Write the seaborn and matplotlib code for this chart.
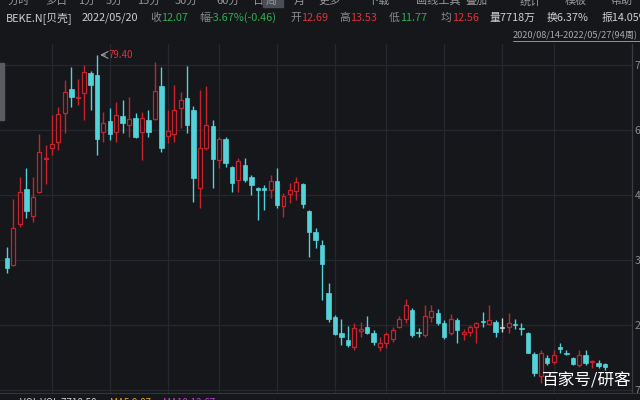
import pandas as pd
import matplotlib
matplotlib.use("Agg")
import matplotlib.pyplot as plt
import seaborn as sns

# ==========================
# Weekly K-line data, BEKE.N (2020/08/14 - 2022/05/27, 94 weeks)
# ==========================
start_week = "2020-08-14"
n_weeks = 94

opens = [35.5, 34.0, 42.8, 50.4, 44.6, 49.8, 56.8, 59.3, 60.6, 66.8,
         72.0, 70.0, 71.2, 75.5, 75.1, 62.7, 65.1, 62.7, 66.2, 64.2,
         65.8, 62.7, 65.3, 65.5, 72.7, 61.9, 62.3, 67.9, 70.1, 67.5,
         50.6, 59.3, 64.0, 56.7, 61.2, 55.2, 52.4, 55.6, 53.0, 50.6,
         50.5, 50.2, 52.2, 46.7, 49.3, 50.0, 51.5, 45.7, 41.1, 38.3,
         27.9, 22.7, 19.3, 17.8, 16.3, 19.8, 20.6, 19.3, 16.3, 17.1,
         18.0, 20.6, 22.3, 24.2, 19.4, 18.8, 22.7, 23.6, 21.4, 19.3,
         22.1, 19.1, 19.5, 20.6, 21.8, 21.2, 21.6, 20.4, 20.6, 21.2,
         20.4, 19.3, 14.7, 9.9, 13.9, 13.0, 16.1, 15.0, 13.9, 12.4,
         14.5, 13.0, 12.69, 12.6]
highs = [37.9, 48.2, 53.0, 55.0, 53.0, 62.3, 60.0, 66.4, 68.1, 74.0,
         76.8, 74.2, 77.2, 76.0, 79.4, 67.1, 67.9, 69.2, 69.6, 70.3,
         66.8, 67.1, 67.5, 77.9, 76.8, 67.5, 72.9, 71.4, 77.0, 68.4,
         71.8, 72.7, 65.3, 61.6, 61.6, 55.4, 57.1, 57.1, 53.4, 50.8,
         51.3, 53.4, 55.0, 49.5, 51.7, 53.0, 51.7, 45.8, 42.0, 39.4,
         30.1, 23.2, 22.3, 20.8, 21.4, 21.6, 23.0, 19.9, 18.4, 19.5,
         20.6, 23.0, 26.6, 24.7, 20.4, 25.3, 25.3, 24.5, 22.1, 23.4,
         22.5, 20.2, 21.0, 21.6, 23.8, 25.3, 22.1, 22.5, 23.6, 22.3,
         21.4, 19.5, 15.2, 15.6, 14.5, 15.6, 17.1, 15.6, 14.1, 15.6,
         15.6, 13.4, 13.53, 12.8]
lows = [32.2, 33.8, 42.2, 44.2, 43.3, 49.6, 51.5, 57.8, 58.9, 62.5,
        68.1, 68.5, 65.3, 67.5, 57.8, 60.6, 61.0, 60.6, 62.5, 61.6,
        61.4, 56.7, 61.6, 65.3, 58.4, 60.4, 60.6, 63.6, 62.5, 47.6,
        46.3, 58.9, 50.6, 55.0, 55.2, 49.8, 49.8, 51.9, 49.1, 43.7,
        45.9, 48.5, 46.3, 44.4, 47.4, 48.0, 46.3, 35.7, 37.7, 26.4,
        21.6, 18.8, 16.7, 16.3, 15.6, 18.4, 19.1, 16.7, 15.4, 16.0,
        17.3, 20.4, 21.4, 18.4, 18.4, 18.4, 21.6, 21.0, 18.0, 18.8,
        17.1, 17.8, 18.6, 17.1, 20.6, 21.0, 18.4, 19.5, 19.3, 20.2,
        18.8, 14.9, 10.0, 8.5, 12.4, 12.6, 15.0, 14.5, 12.4, 11.9,
        12.4, 11.7, 11.77, 11.3]
closes = [33.3, 41.9, 49.8, 45.7, 48.7, 58.4, 57.2, 60.2, 66.6, 71.4,
          70.3, 70.2, 75.7, 72.9, 61.2, 64.7, 62.3, 66.4, 64.7, 65.5,
          61.6, 65.8, 62.7, 71.6, 59.3, 63.0, 67.5, 69.6, 64.2, 52.8,
          59.3, 64.2, 56.9, 61.2, 56.0, 51.7, 56.5, 52.4, 51.3, 50.3,
          50.3, 52.2, 47.0, 48.9, 50.2, 51.9, 47.2, 41.1, 39.4, 34.2,
          22.4, 19.1, 18.4, 16.7, 20.4, 20.0, 19.3, 17.3, 17.1, 19.1,
          19.9, 22.3, 25.3, 18.8, 19.2, 22.9, 24.0, 21.4, 18.4, 22.3,
          19.9, 19.4, 20.6, 21.4, 21.6, 22.1, 19.5, 20.4, 21.4, 21.0,
          20.2, 15.0, 10.6, 14.9, 12.8, 14.5, 15.9, 14.8, 12.6, 14.5,
          12.8, 13.2, 12.07, 11.9]

price_ticks = [7.00, 21.04, 35.08, 49.12, 63.16, 77.20]

# ==========================
# Colours
# ==========================
BG = "#15171b"
GRID = "#25282e"
RED = "#c8232d"
CYAN = "#52d3d9"
DOJI = "#d4d4d4"
TXT = "#cfcfcf"
GRAY = "#8c8c8c"
GREEN = "#2fae4e"
TRED = "#e0323c"

sns.set_theme(style="dark", rc={"axes.facecolor": BG, "figure.facecolor": BG,
                                "axes.edgecolor": "#3a3d44"})
plt.rcParams["font.family"] = ["Noto Sans CJK SC", "DejaVu Sans"]

df = pd.DataFrame({"date": pd.date_range(start_week, periods=n_weeks, freq="7D"),
                   "open": opens, "high": highs, "low": lows, "close": closes})
df["idx"] = range(len(df))

fig = plt.figure(figsize=(6.4, 4.0), dpi=100)
ax = fig.add_axes([0, 7 / 400, 632 / 640, 349 / 400])

# vertical grid at the first week of every second month
first_of_month = df[df["date"].dt.month != df["date"].shift().dt.month]
for _, r in first_of_month.iterrows():
    if r["date"].month % 2 == 0 and r["idx"] > 0:
        ax.axvline(r["idx"], color=GRID, lw=0.9, zorder=0)

up = df["close"] > df["open"]
down = df["close"] < df["open"]
flat = df["close"] == df["open"]

# wicks
for mask, col in [(up, RED), (down, CYAN), (flat, DOJI)]:
    d = df[mask]
    ax.vlines(d["idx"], d["low"], d["high"], colors=col, lw=1.0, zorder=2)

# bodies
body = (df["close"] - df["open"]).abs().clip(lower=0.25)
bottom = df[["open", "close"]].min(axis=1)
ax.bar(df["idx"][up], body[up], bottom=bottom[up], width=0.62,
       facecolor=BG, edgecolor=RED, lw=0.9, zorder=3)
ax.bar(df["idx"][down], body[down], bottom=bottom[down], width=0.7,
       facecolor=CYAN, edgecolor=CYAN, lw=0.5, zorder=3)
ax.bar(df["idx"][flat], body[flat], bottom=bottom[flat], width=0.7,
       facecolor=DOJI, edgecolor=DOJI, lw=0.5, zorder=3)

# highest price marker
imax = df["high"].idxmax()
ax.annotate("", xy=(imax + 0.05, df["high"][imax]), xytext=(imax + 1.75, df["high"][imax]),
            arrowprops=dict(arrowstyle="->", color="#a0a0a0", lw=0.8))
ax.text(imax + 1.8, df["high"][imax], f"{df['high'][imax]:.2f}", color=TRED,
        fontsize=7, va="center", ha="left")

ax.set_xlim(-1.09, 97.2)
ax.set_ylim(6.30, 81.76)
ax.yaxis.tick_right()
ax.set_yticks(price_ticks)
ax.set_yticklabels([f"{v:.2f}" for v in price_ticks])
ax.tick_params(axis="y", colors=GRAY, labelsize=7.5, length=0, pad=2)
ax.set_xticks([])
ax.grid(axis="y", color=GRID, lw=0.9)
ax.grid(axis="x", visible=False)
for s in ["top", "left", "bottom"]:
    ax.spines[s].set_visible(False)
ax.spines["right"].set_color("#3a3d44")
ax.spines["right"].set_linewidth(0.9)


def ftext(x, y, s, **kw):
    fig.text(x / 640, 1 - y / 400, s, **kw)


# top menu bar (cut off)
menu = [(8, "分时"), (45, "多日"), (78, "1分"), (106, "5分"), (137, "15分"),
        (175, "30分"), (216, "60分"), (253, "日"), (266, "周"), (294, "月"),
        (318, "更多"), (367, "下载"), (416, "画线工具"), (465, "叠加"),
        (520, "统计"), (565, "模板"), (610, "帮助")]
fig.patches.append(plt.Rectangle((263 / 640, 1 - 7 / 400), 20 / 640, 7 / 400,
                                 transform=fig.transFigure, color="#4a4d55", zorder=0))
for x, s in menu:
    ftext(x, 1, s, color="#9a9a9a", fontsize=8, va="center", ha="left")

# info line
info = [(6, "BEKE.N[贝壳]", TXT), (82, "2022/05/20", TXT),
        (150, "收", GRAY), (161, "12.07", GREEN),
        (199, "幅", GRAY), (210, "-3.67%(-0.46)", GREEN),
        (290, "开", GRAY), (301, "12.69", TRED),
        (339, "高", GRAY), (350, "13.53", TRED),
        (389, "低", GRAY), (400, "11.77", GREEN),
        (441, "均", GRAY), (452, "12.56", TRED),
        (490, "量7718万", TXT), (547, "换6.37%", TXT), (602, "振14.05%", TXT)]
for x, s, c in info:
    ftext(x, 18, s, color=c, fontsize=7.8, va="center", ha="left")

ftext(513, 36, "2020/08/14-2022/05/27(94周)", color="#a8a8a8", fontsize=6.6,
      va="center", ha="left")
fig.add_artist(plt.Line2D([513 / 640, 1], [1 - 41 / 400, 1 - 41 / 400],
                          transform=fig.transFigure, color="#a8a8a8", lw=0.6))

# left strip
fig.patches.append(plt.Rectangle((0, 1 - 120 / 400), 4 / 640, 57 / 400,
                                 transform=fig.transFigure, color="#5a5c62"))

# bottom indicator line (cut off)
fig.add_artist(plt.Line2D([0, 1], [1 - 393 / 400, 1 - 393 / 400],
                          transform=fig.transFigure, color="#33363c", lw=0.8))
ftext(20, 403, "VOL VOL:7718.58", color=TXT, fontsize=7, va="center", ha="left")
ftext(110, 403, "MA5:9.87", color="#e0a030", fontsize=7, va="center", ha="left")
ftext(163, 403, "MA10:12.67", color="#c040d0", fontsize=7, va="center", ha="left")

# watermark
ftext(542, 381, "百家号/研客", color="white", fontsize=12, va="center", ha="left")

plt.savefig("out.png", dpi=100, facecolor=BG)
plt.close()
